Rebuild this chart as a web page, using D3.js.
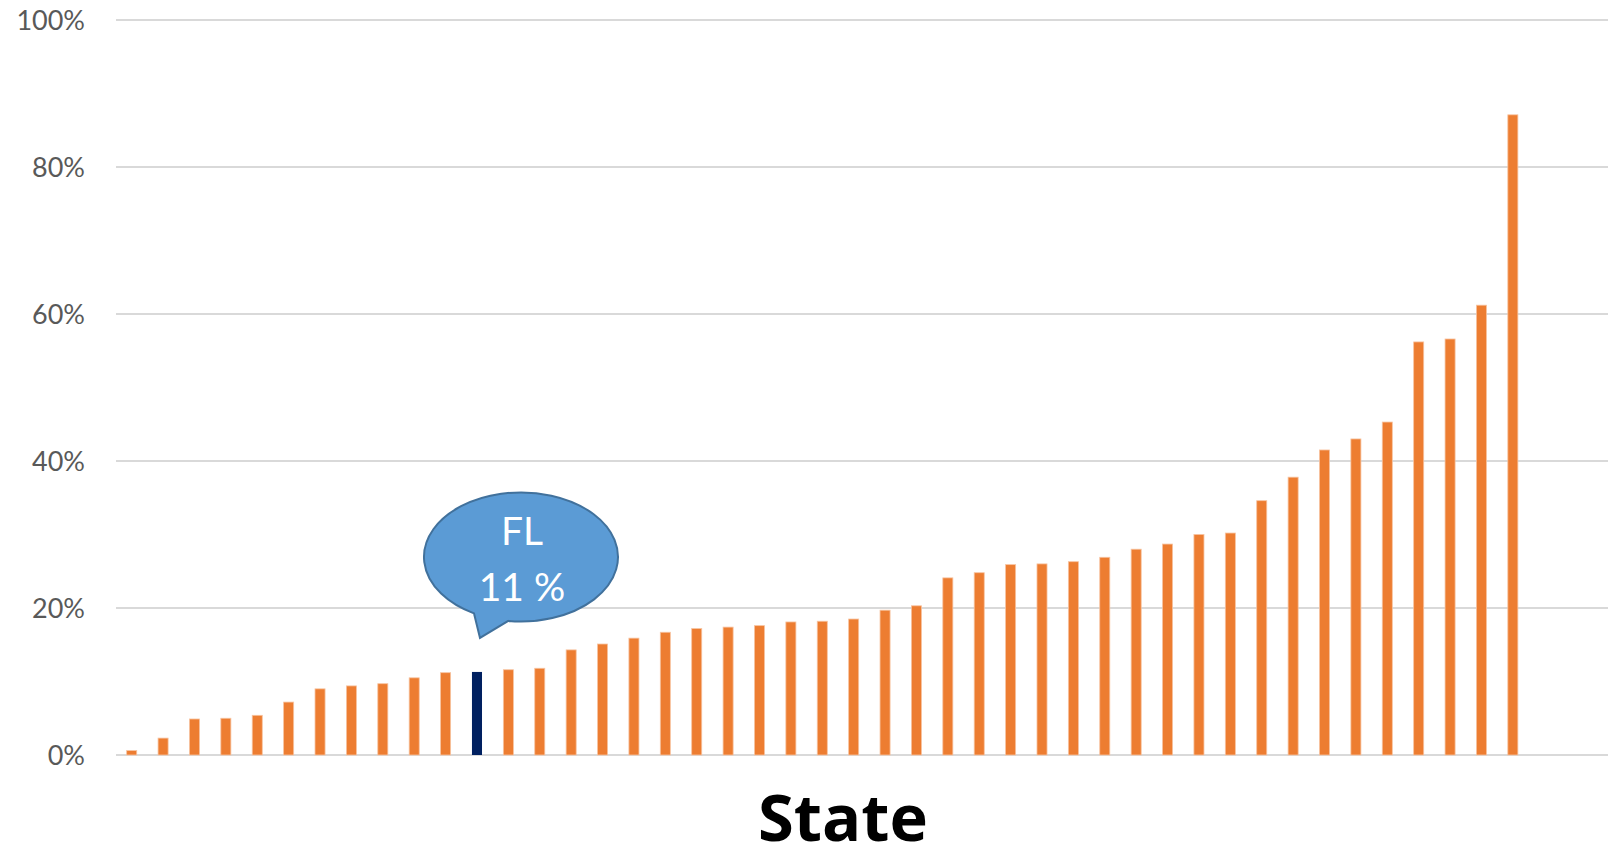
<!DOCTYPE html>
<html>
<head>
<meta charset="utf-8">
<script src="https://cdn.jsdelivr.net/npm/d3@7"></script>
<style>
  html, body { margin: 0; padding: 0; background: #ffffff; }
  svg { display: block; }
</style>
</head>
<body>
<svg id="chart" width="1608" height="847"></svg>
<script>
// Share by state, sorted ascending (percent). One bar per state.
const stateRank = [1, 2, 3, 4, 5, 6, 7, 8, 9, 10, 11, 12, 13, 14, 15, 16, 17, 18, 19, 20,
                   21, 22, 23, 24, 25, 26, 27, 28, 29, 30, 31, 32, 33, 34, 35, 36, 37, 38, 39, 40,
                   41, 42, 43, 44, 45];
const shareValues = [0.6, 2.3, 4.9, 5.0, 5.4, 7.2, 9.0, 9.4, 9.7, 10.5,
                     11.2, 11.3, 11.6, 11.8, 14.3, 15.1, 15.9, 16.7, 17.2, 17.4,
                     17.6, 18.1, 18.2, 18.5, 19.7, 20.3, 24.1, 24.8, 25.9, 26.0,
                     26.3, 26.9, 28.0, 28.7, 30.0, 30.2, 34.6, 37.8, 41.5, 43.0,
                     45.3, 56.2, 56.6, 61.2, 87.1];
const yTicks = [0, 20, 40, 60, 80, 100];
const highlightState = "FL";
const highlightRank = 12;
const xTitle = "State";

const svg = d3.select("#chart");
const W = 1608;
const plot = { left: 116, top: 20, bottom: 755, step: 31.39 };

const x = d3.scaleBand()
  .domain(stateRank)
  .range([plot.left, plot.left + plot.step * stateRank.length])
  .paddingInner(0.68)
  .paddingOuter(0.34);

const y = d3.scaleLinear().domain([0, 100]).range([plot.bottom, plot.top]);

// Horizontal gridlines
svg.append("g")
  .selectAll("line")
  .data(yTicks)
  .join("line")
  .attr("x1", plot.left)
  .attr("x2", W)
  .attr("y1", d => y(d))
  .attr("y2", d => y(d))
  .attr("stroke", "#d9d9d9")
  .attr("stroke-width", 2);

// Y axis labels
const yAxis = d3.axisLeft(y)
  .tickValues(yTicks)
  .tickFormat(d => d + "%")
  .tickSize(0)
  .tickPadding(0);

svg.append("g")
  .attr("transform", "translate(85,0)")
  .call(yAxis)
  .call(g => g.select(".domain").remove())
  .call(g => g.selectAll("text")
    .attr("fill", "#595959")
    .attr("font-family", "Lato, 'Open Sans', sans-serif")
    .attr("font-size", 27)
    .attr("dy", "0.36em"));

// Bars
const data = stateRank.map((r, i) => ({ rank: r, value: shareValues[i] }));
svg.append("g")
  .selectAll("rect")
  .data(data)
  .join("rect")
  .attr("x", d => x(d.rank))
  .attr("y", d => y(d.value))
  .attr("width", x.bandwidth())
  .attr("height", d => y(0) - y(d.value))
  .attr("fill", d => d.rank === highlightRank ? "#002060" : "#ED7D31")
  .attr("stroke", d => d.rank === highlightRank ? "none" : "#f7c3a0")
  .attr("stroke-width", 0.8);

// Callout bubble for the highlighted state
const hv = shareValues[stateRank.indexOf(highlightRank)];
const bx = x(highlightRank) + x.bandwidth() / 2;
const by = y(hv);
const cx = bx + 44, cy = by - 115, rx = 97, ry = 64.5;
const angA = 119 * Math.PI / 180, angB = 97.5 * Math.PI / 180;
const pA = [cx + rx * Math.cos(angA), cy + ry * Math.sin(angA)];
const pB = [cx + rx * Math.cos(angB), cy + ry * Math.sin(angB)];
const tip = [bx + 3, by - 34];
const bubble = d3.path();
bubble.moveTo(pA[0], pA[1]);
bubble.lineTo(tip[0], tip[1]);
bubble.lineTo(pB[0], pB[1]);
const bubbleD = bubble.toString() +
  `A${rx},${ry} 0 1 0 ${pA[0]},${pA[1]}Z`;

const callout = svg.append("g");
callout.append("path")
  .attr("d", bubbleD)
  .attr("fill", "#5B9BD5")
  .attr("stroke", "#41719C")
  .attr("stroke-width", 2)
  .attr("stroke-linejoin", "miter");

callout.append("text")
  .attr("x", cx + 1)
  .attr("y", cy - 12)
  .attr("text-anchor", "middle")
  .attr("fill", "#ffffff")
  .attr("font-family", "Lato, 'Open Sans', sans-serif")
  .attr("font-size", 39)
  .text(highlightState);

callout.append("text")
  .attr("x", cx + 1)
  .attr("y", cy + 44)
  .attr("text-anchor", "middle")
  .attr("fill", "#ffffff")
  .attr("font-family", "Lato, 'Open Sans', sans-serif")
  .attr("font-size", 39)
  .text(Math.round(hv) + " %");

// X axis title
svg.append("text")
  .attr("x", 843)
  .attr("y", 841)
  .attr("text-anchor", "middle")
  .attr("fill", "#000000")
  .attr("font-family", "'Open Sans', sans-serif")
  .attr("font-weight", "bold")
  .attr("font-size", 65)
  .text(xTitle);
</script>
</body>
</html>
